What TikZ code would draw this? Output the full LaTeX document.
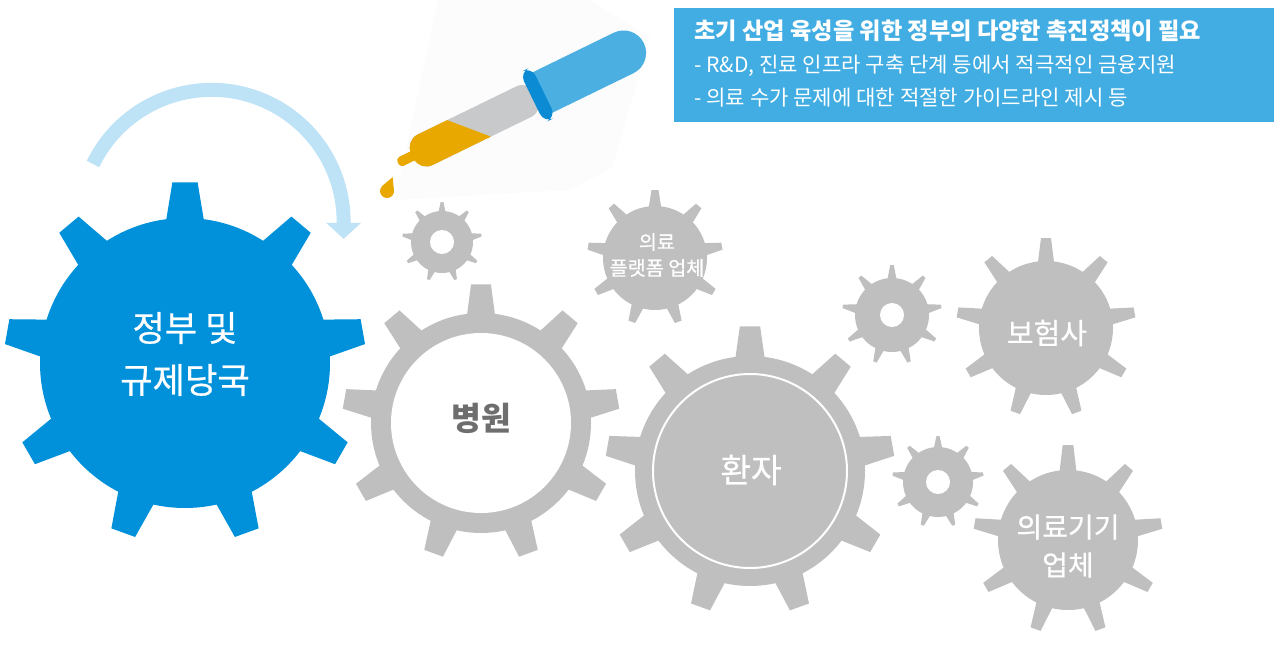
\documentclass[tikz,border=0pt]{standalone}
\usepackage{fontspec}
\setmainfont{Noto Sans CJK KR}
\newfontfamily\labelfont{Noto Sans CJK KR}[FakeBold=0.6]
\usetikzlibrary{arrows.meta}

\definecolor{govblue}{HTML}{0091DA}
\definecolor{boxblue}{HTML}{42ADE2}
\definecolor{arcblue}{HTML}{BEE2F6}
\definecolor{geargray}{HTML}{BFBFBF}
\definecolor{labelgray}{HTML}{6E6E6E}
\definecolor{bulbblue}{HTML}{4BAFE2}
\definecolor{collarblue}{HTML}{0A8BD4}
\definecolor{glassgray}{HTML}{C8C9CA}
\definecolor{liquid}{HTML}{E8A800}

% gear: centre, body radius, tip radius, half-angle at base, half-angle at tip, colour
\newcommand{\gear}[6]{%
  \begin{scope}[shift={#1}]
    \fill[#6] (0,0) circle[radius=#2];
    \foreach \k in {0,...,8}{
      \pgfmathsetmacro{\ang}{-90-40*\k}
      \fill[#6] (\ang-#4:#2-4) -- (\ang-#5:#3) -- (\ang+#5:#3) -- (\ang+#4:#2-4) -- cycle;
    }
  \end{scope}}

\tikzset{
  gearlabel/.style={text=white, align=center, inner sep=0pt},
  boxline/.style={text=white, anchor=west, inner sep=0pt},
}

\begin{document}
\begin{tikzpicture}[x=0.5pt, y=-0.5pt]
\useasboundingbox (0,0) rectangle (1283,646);

% faint backdrop behind the dropper
\fill[black!1] (438,0) -- (590,0) -- (650,37) -- (612,168) -- (570,190) -- (395,200) -- cycle;

% small gears with a hole
\gear{(442,242)}{31}{40}{9}{2}{geargray}
\fill[white] (442,242) circle[radius=12];
\gear{(892,315)}{37}{50}{9}{2}{geargray}
\fill[white] (892,315) circle[radius=12];
\gear{(938,482)}{35}{46}{9}{2}{geargray}
\fill[white] (938,482) circle[radius=12];

% labelled grey gears
\gear{(655,258)}{52}{68}{8}{3}{geargray}
\gear{(1046,328)}{67}{90}{7.7}{3.2}{geargray}
\gear{(1068,540)}{70}{95}{7.7}{3.2}{geargray}
\gear{(481,423)}{110}{139}{7.8}{4.1}{geargray}
\fill[white] (481,423) circle[radius=90];
\gear{(750,471)}{115}{145}{7.8}{4}{geargray}
\draw[white, line width=1pt] (750,471) circle[radius=97];

% government gear
\gear{(185,363)}{145}{181}{7.9}{4}{govblue}

\node[gearlabel, font=\labelfont\fontsize{17.6}{26}\selectfont] (gov) at (185,354) {정부 및\\규제당국};
\node[gearlabel, text=labelgray, font=\fontsize{16.2}{18}\selectfont\bfseries] (hospital) at (481,418) {병원};
\node[gearlabel, font=\labelfont\fontsize{16.7}{18}\selectfont] (patient) at (751,470) {환자};
\node[gearlabel, font=\labelfont\fontsize{14.5}{16}\selectfont] (insurer) at (1047,333) {보험사};
\node[gearlabel, font=\labelfont\fontsize{14}{19}\selectfont] (device) at (1068,546) {의료기기\\업체};
\node[gearlabel, font=\labelfont\fontsize{9.8}{13}\selectfont] (platform) at (657,255) {의료\\플랫폼 업체};

% curved arrow over the government gear
\coordinate (arcstart) at (93,164);
\draw[arcblue, line width=7pt, -{Triangle[width=17pt, length=8pt]}]
  (arcstart) arc[start angle=-154, end angle=0, radius=132] -- ++(0,17);

% dropper
\begin{scope}[shift={(398,163)}, rotate=26]
  \fill[bulbblue] (158,-22.5) -- (251,-22.5) arc[start angle=-90, end angle=90, radius=22.5] -- (158,22.5) -- cycle;
  \fill[glassgray, rounded corners=7] (16,-17) rectangle (154,17);
  \begin{scope}
    \clip[rounded corners=7] (16,-17) rectangle (154,17);
    \fill[liquid] (0,-18) -- (62,-18) -- (96,18) -- (0,18) -- cycle;
  \end{scope}
  \fill[liquid, rounded corners=2] (0,-5) rectangle (20,5);
  \fill[collarblue, rounded corners=5] (149,-28) rectangle (162,28);
\end{scope}
% the falling drop
\begin{scope}[shift={(387,191)}, rotate=68]
  \fill[liquid] (15,0) -- (3.3,6.2) arc[start angle=62, end angle=298, radius=7] -- cycle;
\end{scope}

% policy box
\fill[boxblue] (674,8) rectangle (1274,122);
\node[boxline, font=\fontsize{11.6}{13}\selectfont\bfseries] (need) at (694,31) {초기 산업 육성을 위한 정부의 다양한 촉진정책이 필요};
\node[boxline, font=\fontsize{10.55}{12}\selectfont] (finance) at (694,66) {- R\&D, 진료 인프라 구축 단계 등에서 적극적인 금융지원};
\node[boxline, font=\fontsize{10.55}{12}\selectfont] (guide) at (694,98) {- 의료 수가 문제에 대한 적절한 가이드라인 제시 등};
\end{tikzpicture}
\end{document}
